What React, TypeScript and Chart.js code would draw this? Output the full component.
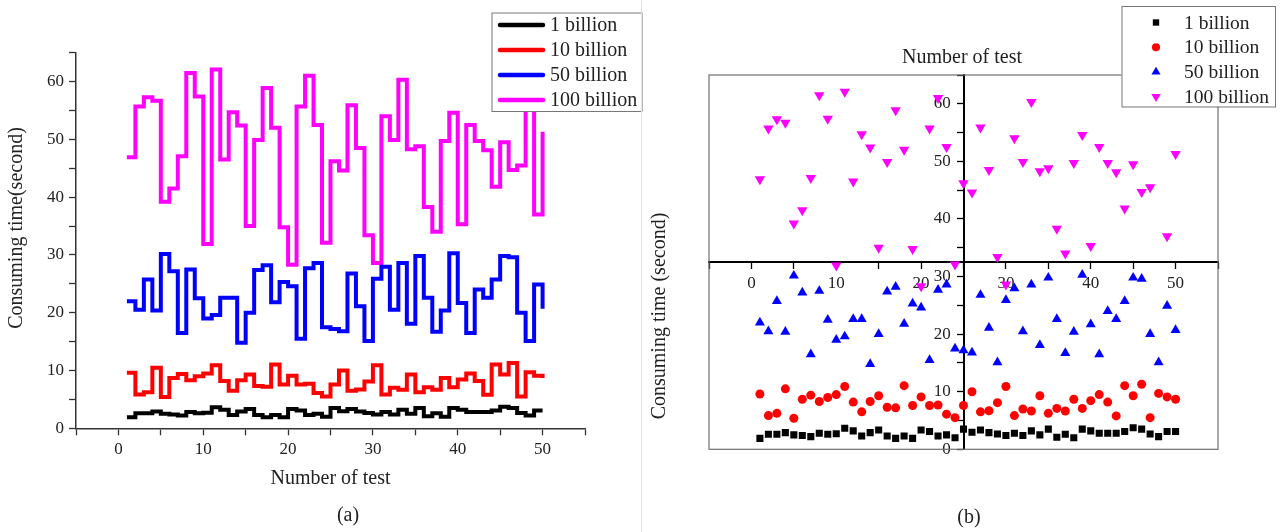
import React, { useEffect, useRef } from "react";
import { Chart, registerables } from "chart.js";

Chart.register(...registerables);

// ---------------- data ----------------
const testNumbers = [
  1, 2, 3, 4, 5, 6, 7, 8, 9, 10,
  11, 12, 13, 14, 15, 16, 17, 18, 19, 20,
  21, 22, 23, 24, 25, 26, 27, 28, 29, 30,
  31, 32, 33, 34, 35, 36, 37, 38, 39, 40,
  41, 42, 43, 44, 45, 46, 47, 48, 49, 50,
];

const seriesLabels = ["1 billion", "10 billion", "50 billion", "100 billion"];
const seriesColors = ["#000000", "#ff0000", "#0000ff", "#ff00ff"];

const time1B = [
  1.9, 2.6, 2.6, 2.9, 2.5, 2.4, 2.2, 2.8, 2.6, 2.7,
  3.65, 3.2, 2.3, 2.9, 3.35, 2.3, 1.9, 2.3, 1.9, 3.35,
  3.1, 2.3, 2.5, 2.0, 3.5, 2.95, 3.35, 2.9, 2.65, 2.4,
  2.8, 2.4, 3.2, 2.5, 3.5, 2.1, 2.6, 2.0, 3.5, 3.2,
  2.8, 2.8, 2.8, 3.1, 3.75, 3.5, 2.65, 2.2, 3.1, 3.1,
];

const time10B = [
  9.6, 5.85, 6.25, 10.5, 5.4, 8.7, 9.4, 8.3, 9.0, 9.5,
  10.9, 8.2, 6.5, 8.3, 9.3, 7.3, 7.2, 11.05, 7.6, 9.1,
  7.6, 7.7, 6.1, 5.5, 7.6, 10.0, 6.5, 6.7, 8.1, 10.9,
  5.85, 7.0, 6.65, 9.3, 6.25, 7.1, 6.65, 8.7, 7.1, 8.45,
  9.5, 8.2, 5.8, 11.05, 9.3, 11.3, 5.5, 9.7, 9.1, 8.7,
];

const time50B = [
  22.0, 20.5, 25.75, 20.4, 30.15, 27.2, 16.5, 27.5, 22.5, 19.0,
  19.6, 22.6, 22.6, 14.8, 20.0, 27.4, 28.2, 21.8, 25.3, 24.6,
  15.5, 27.7, 28.6, 17.5, 17.2, 16.8, 26.8, 21.1, 15.1, 25.9,
  27.95, 20.5, 28.6, 18.1, 29.8, 22.6, 16.7, 20.4, 30.3, 21.7,
  16.5, 24.0, 22.6, 25.75, 29.8, 29.6, 20.0, 15.1, 24.9, 20.7,
];

const time100B = [
  46.9, 55.7, 57.3, 56.7, 39.2, 41.5, 47.1, 61.5, 57.4, 31.9,
  62.1, 46.5, 54.7, 52.4, 35.0, 49.9, 58.9, 52.0, 34.8, 28.3,
  55.7, 61.0, 52.5, 32.1, 46.2, 44.6, 55.9, 48.5, 33.4, 28.6,
  54.0, 49.9, 60.3, 48.3, 48.8, 38.3, 34.0, 49.7, 54.6, 35.3,
  52.5, 49.7, 48.1, 41.8, 49.5, 44.7, 45.5, 61.2, 37.0, 51.3,
];

const seriesValues = [time1B, time10B, time50B, time100B];
const pointStyles = ["rect", "circle", "triangle", "triangle"];
const pointRotations = [0, 0, 0, 180];
const pointRadii = [5, 4.5, 5.8, 6];

const xTickLabels = ["0", "10", "20", "30", "40", "50"];
const yTickLabels = ["0", "10", "20", "30", "40", "50", "60"];

const FONT = "'Liberation Serif', 'Times New Roman', Times, serif";
const TEXT = "#222222";

function toPoints(values: number[]) {
  return testNumbers.map((x, i) => ({ x, y: values[i] }));
}

function tickCb(list: string[], suffix = "") {
  return (v: number | string) => {
    const s = String(Math.round(Number(v)));
    return list.includes(s) ? s + suffix : "";
  };
}

// ---------------- plugins ----------------
const textPlugin = {
  id: "pageTexts",
  afterDraw(chart: any, _a: any, opts: any) {
    const ctx = chart.ctx;
    (opts.items || []).forEach((it: any) => {
      ctx.save();
      ctx.font = `${it.size}px ${FONT}`;
      ctx.fillStyle = TEXT;
      ctx.textAlign = "center";
      ctx.textBaseline = "middle";
      ctx.translate(it.x, it.y);
      if (it.rotate) ctx.rotate(it.rotate);
      ctx.fillText(it.text, 0, 0);
      ctx.restore();
    });
    if (opts.separator) {
      ctx.save();
      ctx.strokeStyle = "#e2e2e2";
      ctx.lineWidth = 1;
      ctx.beginPath();
      ctx.moveTo(opts.separator, 0);
      ctx.lineTo(opts.separator, chart.height);
      ctx.stroke();
      ctx.restore();
    }
  },
};

const lineLegendPlugin = {
  id: "lineLegend",
  afterDraw(chart: any, _a: any, o: any) {
    const ctx = chart.ctx;
    ctx.save();
    ctx.fillStyle = "#ffffff";
    ctx.fillRect(o.x, o.y, o.w, o.h);
    ctx.strokeStyle = "#777777";
    ctx.lineWidth = 1;
    ctx.strokeRect(o.x + 0.5, o.y + 0.5, o.w, o.h);
    chart.data.datasets.forEach((ds: any, i: number) => {
      const y = o.row0 + i * o.gap;
      ctx.strokeStyle = ds.borderColor;
      ctx.lineWidth = 4.5;
      ctx.lineCap = "round";
      ctx.beginPath();
      ctx.moveTo(o.sx1, y);
      ctx.lineTo(o.sx2, y);
      ctx.stroke();
      ctx.fillStyle = TEXT;
      ctx.font = `${o.size}px ${FONT}`;
      ctx.textAlign = "left";
      ctx.textBaseline = "middle";
      ctx.fillText(ds.label, o.tx, y + 1);
    });
    ctx.restore();
  },
};

function drawMarker(ctx: any, style: string, rot: number, r: number, x: number, y: number) {
  ctx.beginPath();
  if (style === "rect") {
    const s = Math.SQRT1_2 * r;
    ctx.rect(x - s, y - s, 2 * s, 2 * s);
  } else if (style === "circle") {
    ctx.arc(x, y, r, 0, Math.PI * 2);
  } else {
    let rad = (rot * Math.PI) / 180;
    ctx.moveTo(x + Math.sin(rad) * r, y - Math.cos(rad) * r);
    rad += (2 * Math.PI) / 3;
    ctx.lineTo(x + Math.sin(rad) * r, y - Math.cos(rad) * r);
    rad += (2 * Math.PI) / 3;
    ctx.lineTo(x + Math.sin(rad) * r, y - Math.cos(rad) * r);
    ctx.closePath();
  }
  ctx.fill();
}

const pointLegendPlugin = {
  id: "pointLegend",
  afterDraw(chart: any, _a: any, o: any) {
    const ctx = chart.ctx;
    ctx.save();
    ctx.fillStyle = "#ffffff";
    ctx.fillRect(o.x, o.y, o.w, o.h);
    ctx.strokeStyle = "#777777";
    ctx.lineWidth = 1;
    ctx.strokeRect(o.x + 0.5, o.y + 0.5, o.w, o.h);
    chart.data.datasets.forEach((ds: any, i: number) => {
      const y = o.row0 + i * o.gap;
      ctx.fillStyle = ds.backgroundColor;
      drawMarker(ctx, ds.pointStyle, ds.pointRotation || 0, ds.pointRadius * 0.9, o.mx, y);
      ctx.fillStyle = TEXT;
      ctx.font = `${o.size}px ${FONT}`;
      ctx.textAlign = "left";
      ctx.textBaseline = "middle";
      ctx.fillText(ds.label, o.tx, y + 1);
    });
    ctx.restore();
  },
};

const frameBoxPlugin = {
  id: "frameBox",
  beforeDatasetsDraw(chart: any) {
    const { ctx, chartArea: a } = chart;
    ctx.save();
    ctx.strokeStyle = "#707070";
    ctx.lineWidth = 1.2;
    ctx.strokeRect(a.left, a.top, a.right - a.left, a.bottom - a.top);
    ctx.restore();
  },
};

// ---------------- component ----------------
export default function App() {
  const leftRef = useRef<HTMLCanvasElement>(null);
  const rightRef = useRef<HTMLCanvasElement>(null);

  useEffect(() => {
    const tickFont = { family: FONT, size: 17 };

    const left = new Chart(leftRef.current as HTMLCanvasElement, {
      type: "line",
      data: {
        datasets: seriesValues.map((vals, i) => ({
          label: seriesLabels[i],
          data: toPoints(vals),
          borderColor: seriesColors[i],
          backgroundColor: seriesColors[i],
          borderWidth: 4,
          stepped: true,
          pointRadius: 0,
          fill: false,
          borderJoinStyle: "miter",
          borderCapStyle: "butt",
        })),
      } as any,
      plugins: [lineLegendPlugin, textPlugin],
      options: {
        responsive: false,
        animation: false,
        events: [],
        layout: { padding: { left: 0, top: 52.7, right: 696, bottom: 0 } },
        plugins: {
          legend: { display: false },
          tooltip: { enabled: false },
          lineLegend: {
            x: 491.5, y: 12.5, w: 150, h: 98.5,
            row0: 25, gap: 25, sx1: 500, sx2: 543, tx: 550, size: 20,
          },
          pageTexts: {
            items: [
              { text: "Consuming time(second)", x: 17, y: 228, size: 20, rotate: -Math.PI / 2 },
              { text: "Number of test", x: 330.5, y: 479, size: 20 },
              { text: "(a)", x: 348, y: 516, size: 20 },
            ],
          },
        } as any,
        scales: {
          x: {
            type: "linear",
            min: -5,
            max: 55,
            position: "bottom",
            afterFit: (s: any) => { s.height = 103.7; },
            grid: { drawOnChartArea: false, drawTicks: true, tickLength: 7, color: "#333", tickWidth: 1.3 },
            border: { color: "#333", width: 1.5 },
            ticks: {
              stepSize: 5, autoSkip: false, maxRotation: 0, minRotation: 0, padding: 4,
              font: tickFont, color: TEXT, callback: tickCb(xTickLabels),
            },
          },
          y: {
            type: "linear",
            min: 0,
            max: 65,
            position: "left",
            afterFit: (s: any) => { s.width = 76; },
            grid: { drawOnChartArea: false, drawTicks: true, tickLength: 7, color: "#333", tickWidth: 1.3 },
            border: { color: "#333", width: 1.5 },
            ticks: {
              stepSize: 5, autoSkip: false, padding: 5,
              font: tickFont, color: TEXT, callback: tickCb(yTickLabels),
            },
          },
        } as any,
      },
    });

    const right = new Chart(rightRef.current as HTMLCanvasElement, {
      type: "scatter",
      data: {
        datasets: seriesValues.map((vals, i) => ({
          label: seriesLabels[i],
          data: toPoints(vals),
          backgroundColor: seriesColors[i],
          borderColor: seriesColors[i],
          borderWidth: 0,
          pointStyle: pointStyles[i],
          pointRotation: pointRotations[i],
          pointRadius: pointRadii[i],
          showLine: false,
        })),
      } as any,
      plugins: [frameBoxPlugin, pointLegendPlugin, textPlugin],
      options: {
        responsive: false,
        animation: false,
        events: [],
        layout: { padding: { left: 709, top: 75, right: 63, bottom: 82.7 } },
        plugins: {
          legend: { display: false },
          tooltip: { enabled: false },
          pointLegend: {
            x: 1121.5, y: 6, w: 153.5, h: 100.5,
            row0: 22.5, gap: 24.7, mx: 1156, tx: 1184, size: 19.5,
          },
          pageTexts: {
            separator: 641.5,
            items: [
              { text: "Number of test", x: 962, y: 58, size: 20 },
              { text: "Consuming time (second)", x: 660, y: 316, size: 20, rotate: -Math.PI / 2 },
              { text: "(b)", x: 969, y: 518, size: 20 },
            ],
          },
        } as any,
        scales: {
          x: {
            type: "linear",
            min: -5,
            max: 55,
            position: { y: 32.5 },
            grid: { drawOnChartArea: false, drawTicks: true, tickLength: 6, color: "#000", tickWidth: 1.3 },
            border: { color: "#000", width: 2 },
            ticks: {
              stepSize: 5, autoSkip: false, maxRotation: 0, minRotation: 0, padding: 5,
              font: tickFont, color: TEXT, callback: tickCb(xTickLabels),
            },
          },
          y: {
            type: "linear",
            min: 0,
            max: 65,
            position: { x: 25 },
            grid: { drawOnChartArea: false, drawTicks: true, tickLength: 6, color: "#000", tickWidth: 1.3 },
            border: { color: "#000", width: 2 },
            ticks: {
              stepSize: 5, autoSkip: false, padding: 7,
              font: tickFont, color: TEXT, callback: tickCb(yTickLabels, "   "),
            },
          },
        } as any,
      },
    });

    return () => {
      left.destroy();
      right.destroy();
    };
  }, []);

  const canvasStyle: React.CSSProperties = {
    position: "absolute",
    left: 0,
    top: 0,
    width: 1281,
    height: 532,
  };

  return (
    <div style={{ position: "absolute", left: 0, top: 0, width: 1281, height: 532, background: "#ffffff" }}>
      <canvas ref={leftRef} width={1281} height={532} style={canvasStyle} />
      <canvas ref={rightRef} width={1281} height={532} style={canvasStyle} />
    </div>
  );
}
